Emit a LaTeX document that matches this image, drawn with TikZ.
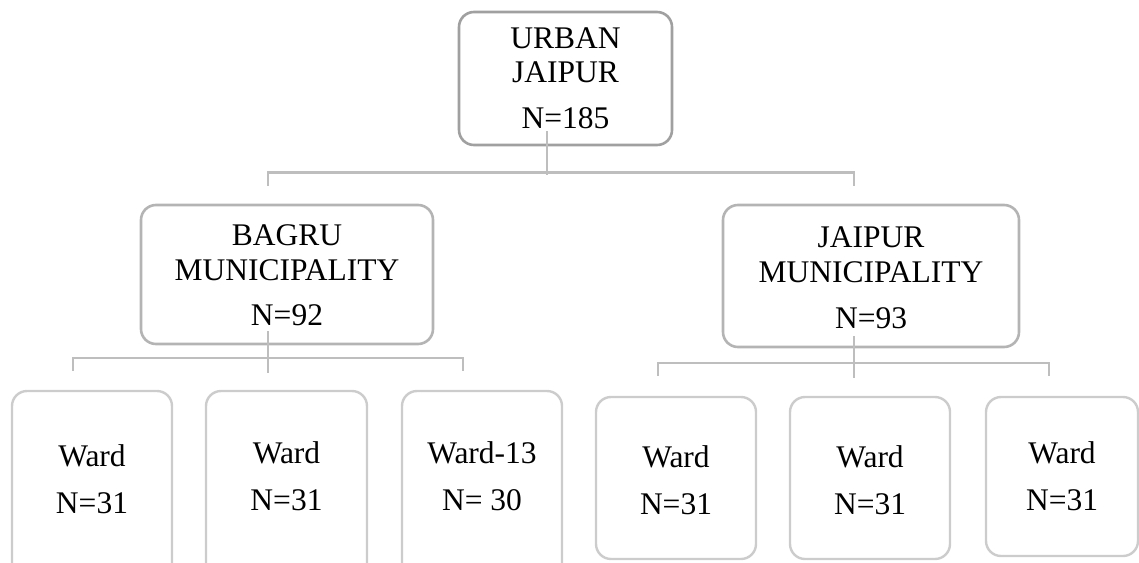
\documentclass[tikz,border=0pt]{standalone}
\usepackage{fontspec}
\setmainfont{Liberation Serif}
\definecolor{topline}{RGB}{160,160,160}
\definecolor{midline}{RGB}{180,180,180}
\definecolor{wardline}{RGB}{204,204,204}
\definecolor{connline}{RGB}{190,190,190}
\tikzset{
  box/.style={draw, line width=2.6pt, rounded corners=15pt, fill=white, inner sep=0pt},
  topbox/.style={box, draw=topline},
  midbox/.style={box, draw=midline},
  wardbox/.style={box, draw=wardline, line width=2.4pt},
  lbl/.style={anchor=base, inner sep=0pt, font=\fontsize{31.5}{34}\selectfont},
  conn/.style={draw=connline, line width=2.6pt}
}
\begin{document}
\begin{tikzpicture}[x=1pt,y=-1pt]
\useasboundingbox (0,0) rectangle (1139,562);
\clip (0,0) rectangle (1139,562);
% boxes
\node[topbox, minimum width=213pt, minimum height=133pt] (top) at (565.5,78.5) {};
\node[midbox, minimum width=292pt, minimum height=139pt] (bagru) at (287,274.5) {};
\node[midbox, minimum width=296pt, minimum height=142pt] (jaipur) at (871,276) {};
\node[wardbox, minimum width=160pt, minimum height=199pt] (w1) at (92,490.5) {};
\node[wardbox, minimum width=161pt, minimum height=199pt] (w2) at (286.5,490.5) {};
\node[wardbox, minimum width=160pt, minimum height=199pt] (w3) at (482,490.5) {};
\node[wardbox, minimum width=160pt, minimum height=162pt] (w4) at (676,478) {};
\node[wardbox, minimum width=160pt, minimum height=162pt] (w5) at (870,478) {};
\node[wardbox, minimum width=152pt, minimum height=159pt] (w6) at (1062,476.5) {};
% texts
\node[lbl] (t1) at (565.5,48) {URBAN};
\node[lbl] (t2) at (565.5,82) {JAIPUR};
\node[lbl] (t3) at (565.5,128) {N=185};
\node[lbl] (b1) at (287,245) {BAGRU};
\node[lbl] (b2) at (287,280) {MUNICIPALITY};
\node[lbl] (b3) at (287,325) {N=92};
\node[lbl] (j1) at (871,247) {JAIPUR};
\node[lbl] (j2) at (871,282) {MUNICIPALITY};
\node[lbl] (j3) at (871,328) {N=93};
\node[lbl] (w1a) at (92,466) {Ward};
\node[lbl] (w1b) at (92,513) {N=31};
\node[lbl] (w2a) at (286.5,463) {Ward};
\node[lbl] (w2b) at (286.5,510) {N=31};
\node[lbl] (w3a) at (482,463) {Ward-13};
\node[lbl] (w3b) at (482,510) {N= 30};
\node[lbl] (w4a) at (676,467) {Ward};
\node[lbl] (w4b) at (676,514) {N=31};
\node[lbl] (w5a) at (870,467) {Ward};
\node[lbl] (w5b) at (870,514) {N=31};
\node[lbl] (w6a) at (1062,463) {Ward};
\node[lbl] (w6b) at (1062,510) {N=31};
% connector anchor points
\coordinate (tS) at ([xshift=-18.5pt,yshift=15pt]top.south);
\coordinate (bagN) at ([xshift=-19pt,yshift=18pt]bagru.north);
\coordinate (jaiN) at ([xshift=-17pt,yshift=18pt]jaipur.north);
\coordinate (bS) at ([xshift=-19pt,yshift=14pt]bagru.south);
\coordinate (w1N) at ([xshift=-19pt,yshift=19pt]w1.north);
\coordinate (w3N) at ([xshift=-19pt,yshift=19pt]w3.north);
\coordinate (jS) at ([xshift=-17pt,yshift=12pt]jaipur.south);
\coordinate (w4N) at ([xshift=-18pt,yshift=20pt]w4.north);
\coordinate (w6N) at ([xshift=-13pt,yshift=20pt]w6.north);
% connectors
\draw[conn] (tS) -- ++(0,44);
\draw[conn] (bagN) -- ++(0,-13) -| (jaiN);
\draw[conn] (bS) -- ++(0,42);
\draw[conn] (w1N) -- ++(0,-13) -| (w3N);
\draw[conn] (jS) -- ++(0,42);
\draw[conn] (w4N) -- ++(0,-13) -| (w6N);
\end{tikzpicture}
\end{document}
